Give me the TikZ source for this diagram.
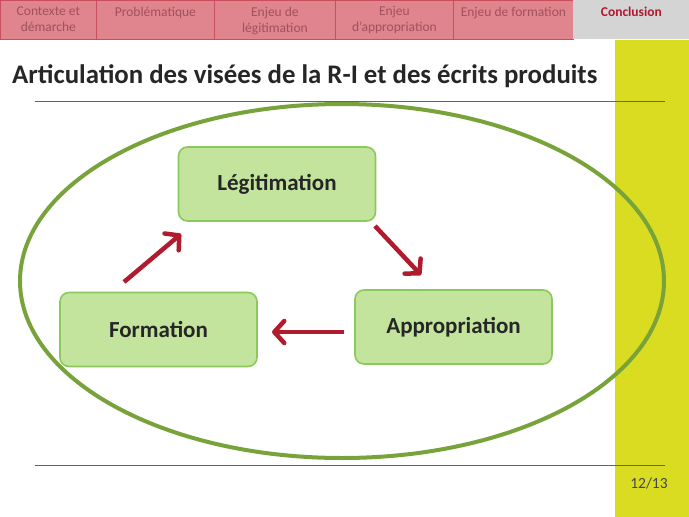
\documentclass[tikz,border=0pt]{standalone}
\usepackage{fontspec}
\setmainfont{Carlito}
\usetikzlibrary{arrows.meta}
\definecolor{tabpink}{HTML}{E0848D}
\definecolor{tabline}{HTML}{C8505C}
\definecolor{tabtext}{HTML}{A0525E}
\definecolor{tabgrey}{HTML}{D4D4D4}
\definecolor{concl}{HTML}{B0182E}
\definecolor{sidebar}{HTML}{DADC22}
\definecolor{rule}{HTML}{B04050}
\definecolor{boxfill}{HTML}{C3E49C}
\definecolor{boxline}{HTML}{8DC85C}
\definecolor{ellgreen}{HTML}{78A33A}
\definecolor{arrred}{HTML}{B01C2E}
\definecolor{titlegrey}{HTML}{262626}
\tikzset{
  tabbox/.style={fill=tabpink, draw=tabline, line width=0.8pt, anchor=north west, inner sep=0pt,
    minimum height=39pt},
  tablabel/.style={anchor=north, inner sep=0pt, text=tabtext, align=center,
    font=\fontsize{13.5}{16}\selectfont},
  stagebox/.style={rounded corners=9pt, fill=boxfill, draw=boxline, line width=1.6pt,
    minimum width=197pt, minimum height=74pt, font=\bfseries\fontsize{23}{26}\selectfont, text=titlegrey},
  cyclearrow/.style={draw=arrred, line width=4.5pt, -{Straight Barb[length=10pt,width=22pt,round]}}
}
\begin{document}
\begin{tikzpicture}[x=1pt,y=-1pt]
\useasboundingbox (0,0) rectangle (689,517);
\fill[white] (0,0) rectangle (689,517);
% sidebar
\fill[sidebar] (615,40) rectangle (689,517);
% tabs
\node[tabbox, minimum width=96pt] (t1) at (0,0) {};
\node[tabbox, minimum width=118pt] (t2) at (96,0) {};
\node[tabbox, minimum width=121pt] (t3) at (214,0) {};
\node[tabbox, minimum width=118pt] (t4) at (335,0) {};
\node[tabbox, minimum width=120pt] (t5) at (453,0) {};
\node[tabbox, minimum width=116pt, fill=tabgrey, draw=none] (t6) at (573,0) {};
\node[tablabel] (l1) at ([yshift=-6.5pt]t1.north) {Contexte et\\démarche};
\node[tablabel] (l2) at ([yshift=-6.5pt]t2.north) {Problématique};
\node[tablabel] (l3) at ([yshift=-6.5pt]t3.north) {Enjeu de\\légitimation};
\node[tablabel] (l4) at ([yshift=-6.5pt]t4.north) {Enjeu\\d’appropriation};
\node[tablabel] (l5) at ([yshift=-6.5pt]t5.north) {Enjeu de formation};
\node[tablabel, text=concl, font=\bfseries\fontsize{13.5}{16}\selectfont] (l6) at ([yshift=-6.5pt]t6.north) {Conclusion};
% title
\node[anchor=base west, inner sep=0pt, text=titlegrey, font=\bfseries\fontsize{26.8}{30}\selectfont] (title) at (12,83) {Articulation des visées de la R-I et des écrits produits};
% rules
\draw[rule, line width=0.8pt] (35,101) -- (665,101);
\draw[rule, line width=0.8pt] (35,465) -- (665,465);
% page number
\node[text=titlegrey!85, font=\fontsize{15.5}{18}\selectfont] (pg) at (649,483) {12/13};
% ellipse
\draw[ellgreen, line width=4pt] (342,281) ellipse [x radius=322, y radius=177];
% boxes
\node[stagebox] (leg) at (277,184) {Légitimation};
\node[stagebox] (app) at (453.5,327) {Appropriation};
\node[stagebox] (form) at (158.5,329.5) {Formation};
% arrow end points
\coordinate (a1s) at (124,282);
\coordinate (a1e) at (181,234);
\coordinate (a2s) at (375,226);
\coordinate (a2e) at (421,275);
\coordinate (a3s) at (344,332);
\coordinate (a3e) at (272,332);
\draw[cyclearrow] (a1s) -- (a1e);
\draw[cyclearrow] (a2s) -- (a2e);
\draw[cyclearrow] (a3s) -- (a3e);
\end{tikzpicture}
\end{document}
